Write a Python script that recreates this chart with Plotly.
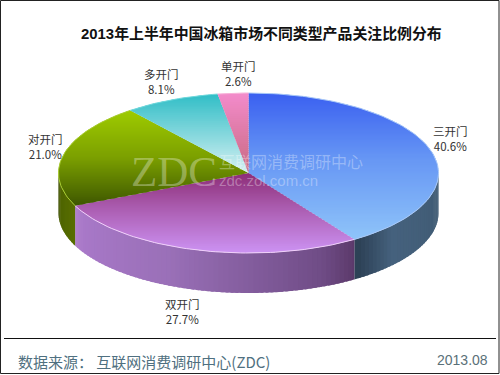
import math
import plotly.graph_objects as go

# ---- data ----
categories = ["三开门", "双开门", "对开门", "多开门", "单开门"]
shares = [40.6, 27.7, 21.0, 8.1, 2.6]
title_text = "2013年上半年中国冰箱市场不同类型产品关注比例分布"
source_text = "数据来源： 互联网消费调研中心(ZDC)"
date_text = "2013.08"

# ---- styling ----
CX, CY, RX, RY, DEPTH = 248.5, 173.0, 190.0, 80.0, 40.0
top_stops = [
    [(0, "#3a5ff0"), (0.45, "#6696f4"), (1, "#8fc4f9")],
    [(0, "#8c2c76"), (0.4, "#a858aa"), (1, "#cc92f2")],
    [(0, "#9fcc00"), (0.5, "#7ca000"), (1, "#3f5800")],
    [(0, "#2fbdc6"), (1, "#d4f0f2")],
    [(0, "#f48ccc"), (1, "#c86a82")],
]
side_stops = [
    [(0, "#3f5a72"), (0.75, "#45617d"), (1, "#2c4054")],
    [(0, "#5a3868"), (0.12, "#6f4c86"), (0.6, "#9a70b8"), (0.95, "#a878c8"), (1, "#b080cc")],
    [(0, "#586e00"), (0.7, "#4e6400"), (1, "#344400")],
]
rim_colors = ["#a8c8f8", "#f0d0fa", "#a8cc30", "#70d8dc", "#f8b0d8"]
label_pos = {
    "三开门": (450, 138), "双开门": (182, 311), "对开门": (45, 146),
    "多开门": (161, 81), "单开门": (238, 73),
}


def hex2rgb(h):
    return tuple(int(h[i:i + 2], 16) for i in (1, 3, 5))


def ramp(stops, t):
    t = max(0.0, min(1.0, t))
    for (a, ca), (b, cb) in zip(stops, stops[1:]):
        if t <= b:
            f = (t - a) / (b - a)
            ra, rb = hex2rgb(ca), hex2rgb(cb)
            return "rgb(%d,%d,%d)" % tuple(round(x + (y - x) * f) for x, y in zip(ra, rb))
    return stops[-1][1]


def pt(a, dy=0.0):
    """a = degrees clockwise from twelve o'clock."""
    r = math.radians(a)
    return CX + RX * math.sin(r), CY - RY * math.cos(r) + dy


def clip(poly, y0, y1):
    def half(points, keep, cross):
        out = []
        for i, p in enumerate(points):
            q = points[(i + 1) % len(points)]
            if keep(p):
                out.append(p)
            if keep(p) != keep(q):
                f = (cross - p[1]) / (q[1] - p[1])
                out.append((p[0] + (q[0] - p[0]) * f, cross))
        return out
    res = half(poly, lambda p: p[1] >= y0, y0)
    if res:
        res = half(res, lambda p: p[1] <= y1, y1)
    return res


def add_poly(fig, poly, color):
    fig.add_trace(go.Scatter(
        x=[p[0] for p in poly] + [poly[0][0]], y=[p[1] for p in poly] + [poly[0][1]],
        mode="lines", fill="toself", fillcolor=color,
        line=dict(width=0), hoverinfo="skip", showlegend=False))


fig = go.Figure()

total = sum(shares)
edges = [0.0]
for s in shares:
    edges.append(edges[-1] + 360.0 * s / total)

# side wall (front half only: 90..270 degrees); each strip overlaps the previous one
side_i = 0
for i in range(len(shares)):
    a0, a1 = max(edges[i], 90), min(edges[i + 1], 270)
    if a1 <= a0:
        continue
    n = max(4, int((a1 - a0) / 1.5))
    du = (a1 - a0) / n
    for k in range(n):
        u0 = max(a0, a0 + du * (k - 0.6))
        u1 = a0 + du * (k + 1)
        poly = [pt(u0 + (u1 - u0) * j / 4) for j in range(5)]
        poly += [pt(u1 - (u1 - u0) * j / 4, DEPTH) for j in range(5)]
        add_poly(fig, poly, ramp(side_stops[side_i], (k + 0.5) / n))
    side_i += 1

# top face, painted in horizontal bands that overlap the band above
STEP = 2.0
for i in range(len(shares)):
    a0, a1 = edges[i], edges[i + 1]
    n = max(6, int((a1 - a0) / 1.5))
    arc = [pt(a0 + (a1 - a0) * k / n) for k in range(n + 1)]
    sector = [(CX, CY)] + arc
    ys = [p[1] for p in sector]
    ymin, ymax = min(ys), max(ys)
    y = ymin
    while y < ymax:
        band = clip(sector, max(ymin, y - 0.8), min(y + STEP, ymax))
        if len(band) >= 3:
            add_poly(fig, band, ramp(top_stops[i], (y + STEP / 2 - ymin) / (ymax - ymin)))
        y += STEP
    fig.add_trace(go.Scatter(
        x=[p[0] for p in arc], y=[p[1] for p in arc], mode="lines",
        line=dict(color=rim_colors[i], width=1), hoverinfo="skip", showlegend=False))

annotations = []
for name, share in zip(categories, shares):
    x, y = label_pos[name]
    annotations.append(dict(
        x=x, y=y, xref="x", yref="y", showarrow=False, align="center",
        text=f"{name}<br>{share:.1f}%",
        font=dict(family="Noto Sans CJK SC", size=11.5, color="#333333")))

WM = "rgba(255,255,255,0.32)"
annotations += [
    dict(x=174, y=171, xref="x", yref="y", showarrow=False, text="ZDC",
         font=dict(family="Liberation Serif", size=43, color=WM)),
    dict(x=217, y=162, xref="x", yref="y", xanchor="left", showarrow=False, text="互联网消费调研中心",
         font=dict(family="Liberation Sans, Noto Sans CJK SC", size=16, color=WM)),
    dict(x=217, y=180, xref="x", yref="y", xanchor="left", showarrow=False, text="zdc.zol.com.cn",
         font=dict(family="Liberation Sans", size=15, color=WM)),
    dict(x=261, y=33, xref="x", yref="y", showarrow=False, text=f"<b>{title_text}</b>",
         font=dict(family="Liberation Sans, Noto Sans CJK SC", size=14.9, color="#111111")),
    dict(x=16, y=361, xref="x", yref="y", xanchor="left", showarrow=False, text=source_text,
         font=dict(family="Noto Sans CJK SC", size=15, color="#4f7080")),
    dict(x=490, y=360, xref="x", yref="y", xanchor="right", showarrow=False, text=date_text,
         font=dict(family="Liberation Sans", size=14, color="#5a7078")),
]

shapes = [
    dict(type="rect", xref="x", yref="y", x0=0.5, y0=0.5, x1=499, y1=373.5,
         line=dict(color="#222222", width=1), fillcolor="rgba(0,0,0,0)"),
    dict(type="line", xref="x", yref="y", x0=4, y0=338.5, x1=496, y1=338.5,
         line=dict(color="#111111", width=1)),
]

fig.update_layout(
    width=500, height=375, margin=dict(l=0, r=0, t=0, b=0),
    paper_bgcolor="white", plot_bgcolor="white", showlegend=False,
    xaxis=dict(range=[0, 500], visible=False, fixedrange=True),
    yaxis=dict(range=[375, 0], visible=False, fixedrange=True),
    annotations=annotations, shapes=shapes,
)
fig.write_html("out.html", config={"displayModeBar": False},
               post_script="document.body.style.margin='0';document.body.style.overflow='hidden';")
